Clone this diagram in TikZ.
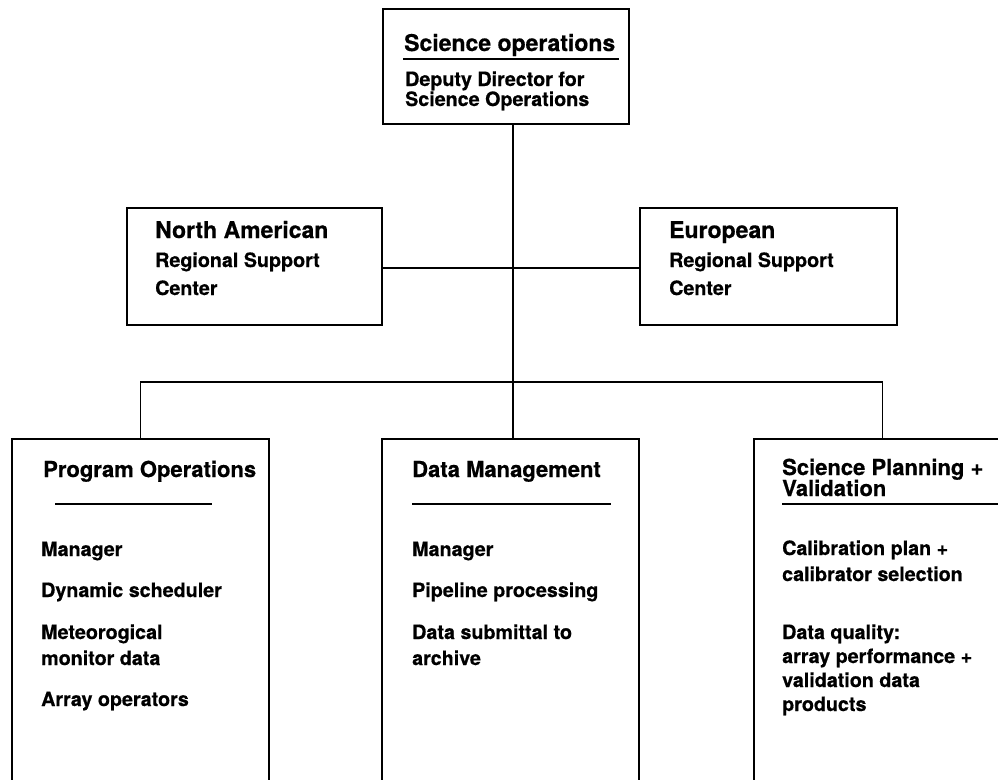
\documentclass[tikz,border=0pt]{standalone}
\usepackage{fontspec}
\setmainfont[BoldFeatures={FakeBold=0.6}]{TeX Gyre Heros}
\begin{document}
\begin{tikzpicture}[x=1pt,y=-1pt,
  box/.style={draw=black, line width=1.4pt, fill=none, inner sep=0pt},
  ln/.style={draw=black, line width=1.3pt},
  ul/.style={draw=black, line width=1.2pt},
  hdbig/.style={font=\fontsize{23}{23}\selectfont\bfseries, anchor=base west, inner sep=0pt},
  hd/.style={font=\fontsize{22}{22}\selectfont\bfseries, anchor=base west, inner sep=0pt},
  itm/.style={font=\fontsize{19.7}{20}\selectfont\bfseries, anchor=base west, inner sep=0pt}]
\useasboundingbox (0,0) rectangle (998,779);
\fill[white] (0,0) rectangle (998,779);
\clip (0,0) rectangle (998,779);

% boxes
\node[box, minimum width=246pt, minimum height=115pt] (so) at (506,66.5) {};
\node[box, minimum width=255pt, minimum height=117pt] (na) at (254.5,266.5) {};
\node[box, minimum width=257pt, minimum height=117pt] (eu) at (768.5,266.5) {};
\node[box, minimum width=257pt, minimum height=361pt] (po) at (140.5,619.5) {};
\node[box, minimum width=257pt, minimum height=361pt] (dm) at (510.5,619.5) {};
\node[box, minimum width=257pt, minimum height=361pt] (sp) at (882.5,619.5) {};

% connectors
\coordinate (jm) at (513,268);
\coordinate (jb) at (513,382);
\draw[ln] (so.south -| jm) -- (jb);
\draw[ln] (na.east |- jm) -- (eu.west |- jm);
\draw[ln] (po.north) |- (jb) -| (sp.north);
\draw[ln] (jb) -- (dm.north -| jb);

% top box
\node[hdbig] (so1) at (404,51) {Science operations};
\draw[ul] (403,59) -- (619,59);
\node[itm] (so2) at (405,86) {Deputy Director for};
\node[itm] (so3) at (405,106) {Science Operations};

% North American
\node[hdbig] (na1) at (155,238) {North American};
\node[itm] (na2) at (155,267) {Regional Support};
\node[itm] (na3) at (155,295) {Center};

% European
\node[hdbig] (eu1) at (669,238) {European};
\node[itm] (eu2) at (669,267) {Regional Support};
\node[itm] (eu3) at (669,295) {Center};

% Program Operations
\node[hd] (po0) at (43,477) {Program Operations};
\draw[ul] (55,504) -- (212,504);
\node[itm] (po1) at (41,556) {Manager};
\node[itm] (po2) at (41,597) {Dynamic scheduler};
\node[itm] (po3) at (41,639) {Meteorogical};
\node[itm] (po4) at (41,665) {monitor data};
\node[itm] (po5) at (41,706) {Array operators};

% Data Management
\node[hd] (dm0) at (412,477) {Data Management};
\draw[ul] (412,504) -- (611,504);
\node[itm] (dm1) at (412,556) {Manager};
\node[itm] (dm2) at (412,597) {Pipeline processing};
\node[itm] (dm3) at (412,639) {Data submittal to};
\node[itm] (dm4) at (412,665) {archive};

% Science Planning + Validation
\node[hd] (sp0) at (782,475) {Science Planning +};
\node[hd] (sp0b) at (782,496) {Validation};
\draw[ul] (782,504) -- (1000,504);
\node[itm] (sp1) at (782,555) {Calibration plan +};
\node[itm] (sp2) at (782,581) {calibrator selection};
\node[itm] (sp3) at (782,639) {Data quality:};
\node[itm] (sp4) at (782,663) {array performance +};
\node[itm] (sp5) at (782,687) {validation data};
\node[itm] (sp6) at (782,711) {products};
\end{tikzpicture}
\end{document}
